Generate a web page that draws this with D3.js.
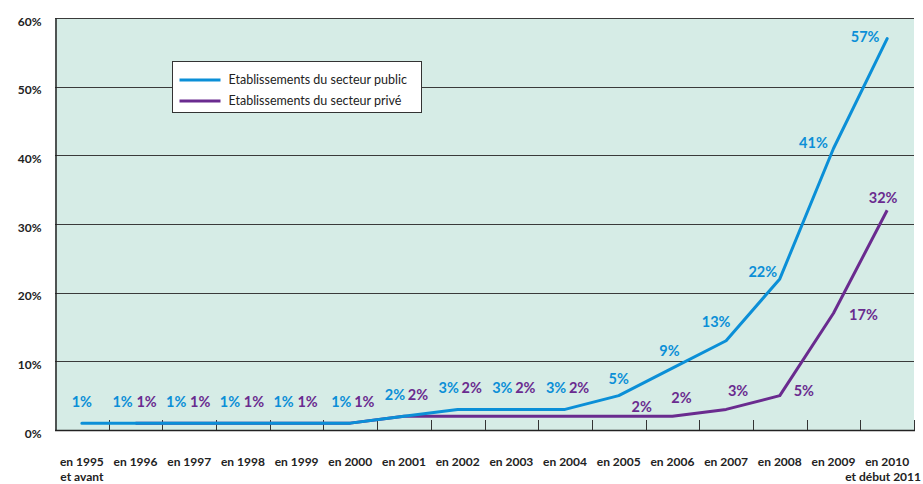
<!DOCTYPE html>
<html>
<head>
<meta charset="utf-8">
<script src="https://cdn.jsdelivr.net/npm/d3@7"></script>
<style>
  html, body { margin: 0; padding: 0; background: #fff; }
  svg { display: block; font-family: Lato, "Open Sans", sans-serif; }
</style>
</head>
<body>
<svg id="chart" width="923" height="484"></svg>
<script>
// Years (two-line labels for the first and last periods)
const categories = [
  ["en 1995", "et avant"], ["en 1996"], ["en 1997"], ["en 1998"], ["en 1999"],
  ["en 2000"], ["en 2001"], ["en 2002"], ["en 2003"], ["en 2004"],
  ["en 2005"], ["en 2006"], ["en 2007"], ["en 2008"], ["en 2009"],
  ["en 2010", "et début 2011"]
];
// Share of establishments, in percent
const publicValues  = [1, 1, 1, 1, 1, 1, 2, 3, 3, 3, 5, 9, 13, 22, 41, 57];
const privateValues = [null, 1, 1, 1, 1, 1, 2, 2, 2, 2, 2, 2, 3, 5, 17, 32];
const yTicks = [0, 10, 20, 30, 40, 50, 60];
const seriesNames = ["Etablissements du secteur public", "Etablissements du secteur privé"];

const BLUE = "#0b8fd7", PURPLE = "#6a2b8f", BG = "#d6ece6", GRID = "#3a3a3a";

const svg = d3.select("#chart");
const plot = { left: 55, right: 914, top: 18, bottom: 430 };

const x = d3.scaleBand()
  .domain(d3.range(categories.length))
  .range([plot.left, plot.right])
  .paddingInner(0).paddingOuter(0);
const cx = i => x(i) + x.bandwidth() / 2;

const y = d3.scaleLinear().domain([0, 60]).range([plot.bottom, plot.top]);

// background of the plotting area
svg.append("rect")
  .attr("x", plot.left).attr("y", plot.top)
  .attr("width", plot.right - plot.left).attr("height", plot.bottom - plot.top)
  .attr("fill", BG);

// horizontal gridlines
svg.append("g").selectAll("line").data(yTicks.filter(t => t > 0)).join("line")
  .attr("x1", plot.left).attr("x2", plot.right)
  .attr("y1", d => Math.round(y(d)) + 0.5).attr("y2", d => Math.round(y(d)) + 0.5)
  .attr("stroke", GRID).attr("stroke-width", 1);

// y axis
const yAxis = svg.append("g")
  .attr("transform", `translate(${plot.left + 0.5},0)`)
  .call(d3.axisLeft(y).tickValues(yTicks).tickSize(0).tickPadding(14).tickFormat(d => d + "%"));
yAxis.select(".domain").attr("stroke", "#222").attr("stroke-width", 1.5);
yAxis.selectAll("text")
  .attr("font-family", "Lato, sans-serif").attr("font-size", 12).attr("font-weight", "bold")
  .attr("fill", "#222").attr("dy", "0.6em");

// x axis: baseline with inward tick marks between the periods
const xb = svg.append("g");
xb.append("line")
  .attr("x1", plot.left).attr("x2", plot.right + 1)
  .attr("y1", plot.bottom + 0.5).attr("y2", plot.bottom + 0.5)
  .attr("stroke", "#222").attr("stroke-width", 1.5);
xb.selectAll("line.tick").data(d3.range(1, categories.length + 1)).join("line")
  .attr("class", "tick")
  .attr("x1", d => Math.round(d === categories.length ? plot.right : x(d)) + 0.5)
  .attr("x2", d => Math.round(d === categories.length ? plot.right : x(d)) + 0.5)
  .attr("y1", plot.bottom - 10).attr("y2", plot.bottom)
  .attr("stroke", "#333").attr("stroke-width", 1);

const xl = svg.append("g").selectAll("text").data(categories).join("text")
  .attr("x", (d, i) => cx(i))
  .attr("y", 466)
  .attr("text-anchor", "middle")
  .attr("font-size", 12).attr("font-weight", "bold").attr("fill", "#222");
xl.each(function (d, i) {
  const t = d3.select(this);
  const last = i === categories.length - 1;
  d.forEach((line, k) => {
    const ts = t.append("tspan").attr("x", t.attr("x")).attr("dy", k ? 15 : 0).text(line);
    // keep the long second line of the last period inside the page
    if (last && k === 1) ts.attr("x", 921).attr("text-anchor", "end");
  });
});

// series lines
const line = d3.line()
  .defined(d => d != null)
  .x((d, i) => cx(i))
  .y(d => y(d));

svg.append("path").datum(privateValues)
  .attr("d", line).attr("fill", "none")
  .attr("stroke", PURPLE).attr("stroke-width", 3).attr("stroke-linejoin", "round");
svg.append("path").datum(publicValues)
  .attr("d", line).attr("fill", "none")
  .attr("stroke", BLUE).attr("stroke-width", 3).attr("stroke-linejoin", "round")
  .attr("stroke-linecap", "round");

// value labels: nudges around each point so the two series do not overlap
const pubNudge = i => {
  if (i === 0) return [0, -21];
  if (i <= 9) return [i <= 4 ? -13 : -9, -21];
  return [[0, -17], [-3, -17], [-10, -19], [-17, -7], [-20, -6], [-22, -2]][i - 10];
};
const privNudge = i => {
  if (i <= 9) return [i <= 4 ? 11 : 14, y(publicValues[i]) - y(privateValues[i]) - 21];
  return [[23, -9], [9, -18], [12, -18], [24, -5], [30, 2], [-4, -12]][i - 10];
};

function labels(values, color, nudge) {
  svg.append("g").selectAll("text")
    .data(values.map((v, i) => ({ v, i })).filter(d => d.v != null))
    .join("text")
    .attr("x", d => cx(d.i) + nudge(d.i)[0])
    .attr("y", d => y(d.v) + nudge(d.i)[1])
    .attr("dy", "0.35em")
    .attr("text-anchor", "middle")
    .attr("font-size", 14.5).attr("font-weight", "bold")
    .attr("fill", color)
    .text(d => d.v + "%");
}
labels(publicValues, BLUE, pubNudge);
labels(privateValues, PURPLE, privNudge);

// legend
const lg = svg.append("g").attr("transform", "translate(172.5,61.5)");
lg.append("rect").attr("width", 249).attr("height", 51)
  .attr("fill", "#fff").attr("stroke", "#333").attr("stroke-width", 1);
[BLUE, PURPLE].forEach((c, k) => {
  const yy = 18.5 + k * 21;
  lg.append("line").attr("x1", 7).attr("x2", 48).attr("y1", yy).attr("y2", yy)
    .attr("stroke", c).attr("stroke-width", 3);
  lg.append("text").attr("x", 56).attr("y", yy).attr("dy", "0.35em")
    .attr("font-size", 12.5).attr("fill", "#222").text(seriesNames[k]);
});
</script>
</body>
</html>
